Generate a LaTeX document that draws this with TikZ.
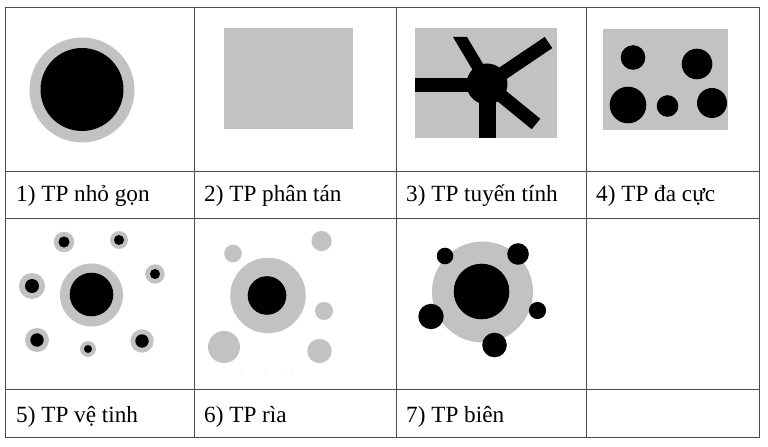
\documentclass[tikz,border=0pt]{standalone}
\usepackage{fontspec}
\setmainfont{Liberation Serif}
\begin{document}
\begin{tikzpicture}[x=1bp,y=-1bp,
  grid/.style={draw=black!70,line width=0.9bp},
  lbl/.style={anchor=base west,inner sep=0pt,font=\fontsize{23.3}{27}\selectfont},
  gr/.style={fill=black!24},
  bk/.style={fill=black},
  arm/.style={draw=black,line width=13.5bp,line cap=butt}]
\useasboundingbox (0,0) rectangle (768,447);
% grid
\draw[grid] (5,7) rectangle (759,437);
\draw[grid] (5,171) -- (759,171);
\draw[grid] (5,218) -- (759,218);
\draw[grid] (5,389) -- (759,389);
\draw[grid] (194,7) -- (194,437);
\draw[grid] (396,7) -- (396,437);
\draw[grid] (586,7) -- (586,437);
% cell 1
\fill[gr] (82,90) circle (52.5);
\fill[bk] (82,89.5) circle (41.5);
% cell 2
\fill[gr] (224,28) rectangle (353,129);
% cell 3
\fill[gr] (415,28) rectangle (557,138);
\begin{scope}
\clip (415,28) rectangle (557,138);
\draw[arm] (415,85) -- (487,85);
\draw[arm,line width=16.5bp] (487.5,84) -- (487.5,140);
\draw[arm] (487,84) -- (548.5,42.5);
\draw[arm] (487,84) -- (536,124);
\fill[bk] (453,37) -- (467,37) -- (495,84) -- (481,84) -- cycle;
\fill[bk] (487,84) circle (20.5);
\end{scope}
% cell 4
\fill[gr] (603,29) rectangle (728,130);
\fill[bk] (633,57.5) circle (12.3);
\fill[bk] (697,64) circle (15.3);
\fill[bk] (628,105) circle (18.3);
\fill[bk] (667.5,106) circle (10.8);
\fill[bk] (712,103) circle (15);
% cell 5
\fill[gr] (91.5,295) circle (31.5);
\fill[bk] (91.5,294.5) circle (21.8);
\foreach \cx/\cy/\rg/\rb in {64/242/10.3/5.6, 119/240/9/5, 155/274/9.7/5,
  32/286/13/7, 37/340/12/6.7, 88/349/8/4, 142/341/11.7/6.7}{
  \fill[gr] (\cx,\cy) circle (\rg);
  \fill[bk] (\cx,\cy) circle (\rb);
}
% cell 6
\fill[gr] (268,295.5) circle (37.7);
\fill[bk] (267,295.5) circle (19.3);
\fill[gr] (233,253.5) circle (8.8);
\fill[gr] (321.5,241) circle (10.1);
\fill[gr] (324,311) circle (9);
\fill[gr] (224,347) circle (16);
\fill[gr] (319.5,351) circle (12.2);
\foreach \dx in {241,265,285,292}{\fill[black!35] (\dx,373) circle (0.5);}
% cell 7
\fill[gr] (482.5,292) circle (50.5);
\fill[bk] (481.5,291.5) circle (27.8);
\fill[bk] (445,256) circle (8.3);
\fill[bk] (518,254) circle (10.8);
\fill[bk] (431,316.5) circle (12.7);
\fill[bk] (537.5,310.5) circle (8.6);
\fill[bk] (494.5,345) circle (12.3);
% labels
\node[lbl] (l1) at (16,202) {1) TP nhỏ gọn};
\node[lbl] (l2) at (204,202) {2) TP phân tán};
\node[lbl] (l3) at (406,202) {3) TP tuyến tính};
\node[lbl] (l4) at (596,202) {4) TP đa cực};
\node[lbl] (l5) at (16,422) {5) TP vệ tinh};
\node[lbl] (l6) at (204,422) {6) TP rìa};
\node[lbl] (l7) at (406,422) {7) TP biên};
\end{tikzpicture}
\end{document}
